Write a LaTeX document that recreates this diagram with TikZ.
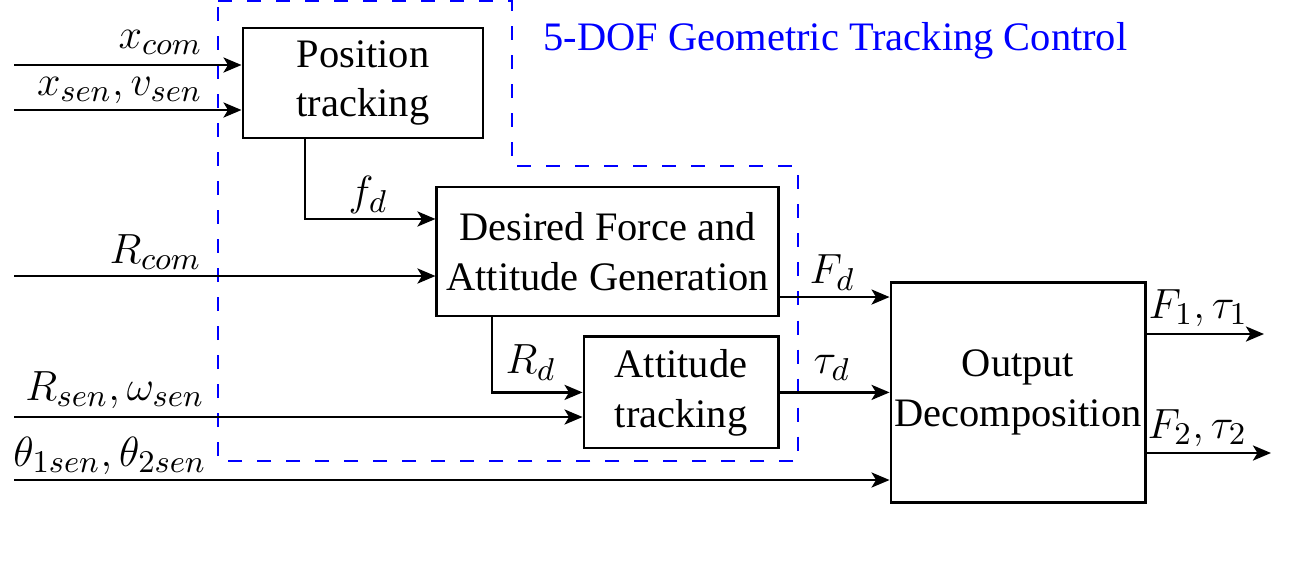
\documentclass[tikz,border=0pt]{standalone}
\usepackage[no-math]{fontspec}
\setmainfont{Liberation Serif}
\usepackage{tikz}
\tikzset{block node/.style={rectangle,draw,line width=0.8pt,align=center,inner sep=0pt,font=\rmfamily\fontsize{11.5}{14.2}\selectfont},
sig/.style={-{Stealth[length=0.18cm,width=0.15cm,inset=0.045cm]},line width=0.8pt},
sig label/.style={inner sep=0pt,font=\fontsize{12.8}{15}\selectfont},
dof box/.style={draw=blue,line width=0.7pt,dash pattern=on 0.14cm off 0.15cm},
}
\usetikzlibrary{positioning,arrows.meta}

\begin{document}
\begin{tikzpicture}[x=0.01cm,y=-0.01cm]
			\useasboundingbox (0,0) rectangle (1290,569);
			
			%% controller outline
			\draw[dof box] (218,1) -- (512,1) -- (512,166) -- (798,166) -- (798,461) -- (218,461) -- cycle;
			\node[anchor=base west,inner sep=0pt,text=blue,font=\rmfamily\fontsize{11.5}{14.2}\selectfont] (title) at (543,50) {5-DOF Geometric Tracking Control};
			
			%% blocks
			\node[block node,minimum width=2.40cm,minimum height=1.10cm] (1) at (363,83) {Position\\tracking};
			\node[block node,minimum width=3.41cm,minimum height=1.29cm] (2) at (607.5,251.5) {Desired Force and\\Attitude Generation};
			\node[block node,minimum width=1.94cm,minimum height=1.11cm] (3) [below=0.18cm of 2.south east,anchor=north east] {Attitude\\tracking};
			\node[block node,minimum width=2.54cm,minimum height=2.20cm] (4) [right=1.10cm of 3] {Output\\Decomposition};
			
			%% free ends
			\coordinate (xc) at (14,65);
			\coordinate (xs) at (14,110);
			\coordinate (rc) at (14,276);
			\coordinate (rs) at (14,417);
			\coordinate (th) at (14,480);
			\coordinate (fd) at (305,0);
			\coordinate (rd) at (492,0);
			\coordinate (o1) at (1264,334);
			\coordinate (o2) at (1271,453);
			
			\path[sig]
			(xc) edge (xc -| 1.west)
			(xs) edge (xs -| 1.west)
			(rc) edge (rc -| 2.west)
			(rs) edge (rs -| 3.west)
			(th) edge (th -| 4.west)
			(1.south -| fd) edge[to path={|- (\tikztotarget)}] ([yshift=0.325cm]2.west)
			(2.south -| rd) edge[to path={|- (\tikztotarget)}] (3.west)
			([yshift=-0.455cm]2.east) edge ([yshift=-0.455cm]2.east -| 4.west)
			(3.east) edge (3.east -| 4.west)
			(o1 -| 4.east) edge (o1)
			(o2 -| 4.east) edge (o2)
			;
			
			%% signal names
			\node[sig label,anchor=base east] (l1) at (203,48) {$x_{com}$};
			\node[sig label,anchor=base east] (l2) at (203,95) {$x_{sen},v_{sen}$};
			\node[sig label,anchor=base east] (l3) at (202,263) {$R_{com}$};
			\node[sig label,anchor=base east] (l4) at (205,400) {$R_{sen},\omega_{sen}$};
			\node[sig label,anchor=base east] (l5) at (207,466) {$\theta_{1sen},\theta_{2sen}$};
			\node[sig label,anchor=base west] (l6) at (348,205) {$f_d$};
			\node[sig label,anchor=base west] (l7) at (505,373) {$R_d$};
			\node[sig label,anchor=base west] (l8) at (809,283) {$F_d$};
			\node[sig label,anchor=base west] (l9) at (813,373) {$\tau_d$};
			\node[sig label,anchor=base west] (l10) at (1148,318) {$F_1,\tau_1$};
			\node[sig label,anchor=base west] (l11) at (1147,438) {$F_2,\tau_2$};
\end{tikzpicture}
\end{document}
